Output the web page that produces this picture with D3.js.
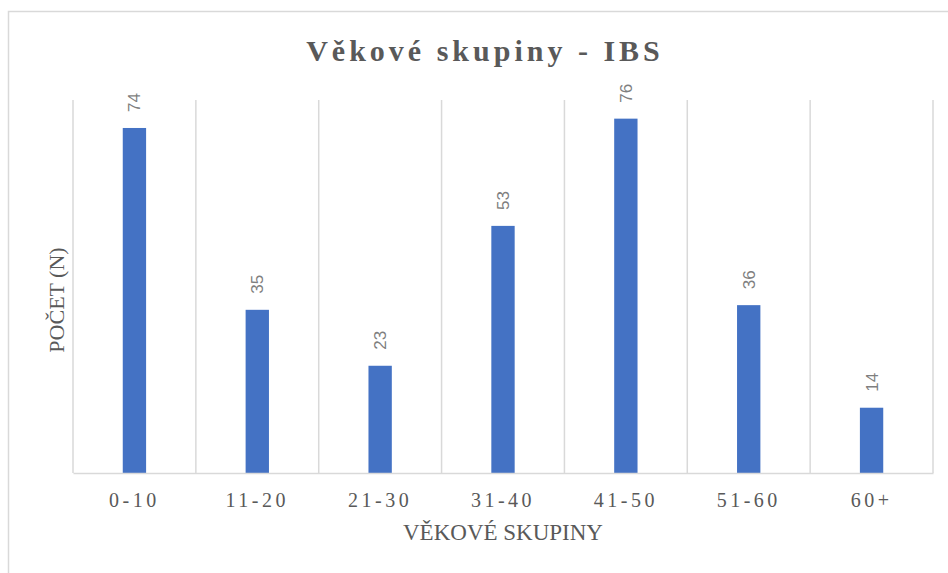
<!DOCTYPE html>
<html>
<head>
<meta charset="utf-8">
<script src="https://cdn.jsdelivr.net/npm/d3@7"></script>
<style>
body{margin:0;background:#fff;}
</style>
</head>
<body>
<svg id="chart" width="948" height="573"></svg>
<script>
var categories = ["0-10","11-20","21-30","31-40","41-50","51-60","60+"];
var counts = [74,35,23,53,76,36,14];
var yMax = 80;

var svg = d3.select('#chart');
var margin = {left:73, right:15, top:100, bottom:100};
var plotW = 948 - margin.left - margin.right;
var plotH = 573 - margin.top - margin.bottom;

// outer chart border (runs off the page on right/bottom)
svg.append('rect')
	.attr('x',8.5).attr('y',11.5)
	.attr('width',1000).attr('height',1000)
	.attr('fill','none')
	.attr('stroke','#d9d9d9')
	.attr('stroke-width',1.5);

var x = d3.scaleBand().domain(categories).range([0,plotW]).padding(0);
var y = d3.scaleLinear().domain([0,yMax]).range([plotH,0]);
var barW = x.step()*0.19;

var g = svg.append('g').attr('transform','translate('+margin.left+','+margin.top+')');

// vertical gridlines at category boundaries
var bounds = categories.map(function(c){ return x(c);}).concat([plotW]);
g.selectAll('line.grid')
	.data(bounds).enter()
	.append('line')
	.attr('class','grid')
	.attr('x1',function(d){ return d;})
	.attr('x2',function(d){ return d;})
	.attr('y1',0)
	.attr('y2',plotH)
	.attr('stroke','#d9d9d9')
	.attr('stroke-width',1.5);

g.selectAll('rect.bar')
	.data(counts).enter()
	.append('rect')
	.attr('class','bar')
	.attr('x',function(d,i){ return x(categories[i]) + x.bandwidth()/2 - barW/2;})
	.attr('y',function(d){ return y(d);})
	.attr('width',barW)
	.attr('height',function(d){ return plotH - y(d);})
	.attr('fill','#4472c4');

// bottom axis line
var xAxis = g.append('g')
	.attr('transform','translate(0,'+plotH+')')
	.call(d3.axisBottom(x).tickSize(0).tickPadding(20));
xAxis.select('.domain').attr('stroke','#d9d9d9').attr('stroke-width',1.5);
xAxis.selectAll('text')
	.attr('font-family','"Liberation Serif", "Times New Roman", serif')
	.attr('font-size',20)
	.attr('letter-spacing',3.5)
	.attr('fill','#595959');

// data labels, rotated
g.selectAll('text.lbl')
	.data(counts).enter()
	.append('text')
	.attr('class','lbl')
	.attr('transform',function(d,i){
		var cx = x(categories[i]) + x.bandwidth()/2 + 6;
		return 'translate('+cx+','+(y(d)-16)+') rotate(-90)';
	})
	.attr('font-family','"Liberation Sans", Arial, sans-serif')
	.attr('font-size',17)
	.attr('fill','#7f7f7f')
	.text(function(d){ return d;});

svg.append('text')
	.attr('x',485).attr('y',61)
	.attr('text-anchor','middle')
	.attr('font-family','"Liberation Serif", "Times New Roman", serif')
	.attr('font-weight','bold')
	.attr('font-size',30)
	.attr('letter-spacing',4)
	.attr('fill','#595959')
	.text('Věkové skupiny - IBS');

svg.append('text')
	.attr('x',503).attr('y',540)
	.attr('text-anchor','middle')
	.attr('font-family','"Liberation Serif", "Times New Roman", serif')
	.attr('font-size',23)
	.attr('fill','#595959')
	.text('VĚKOVÉ SKUPINY');

svg.append('text')
	.attr('transform','translate(64,300) rotate(-90)')
	.attr('text-anchor','middle')
	.attr('font-family','"Liberation Serif", "Times New Roman", serif')
	.attr('font-size',22)
	.attr('fill','#595959')
	.text('POČET (N)');
</script>
</body>
</html>
